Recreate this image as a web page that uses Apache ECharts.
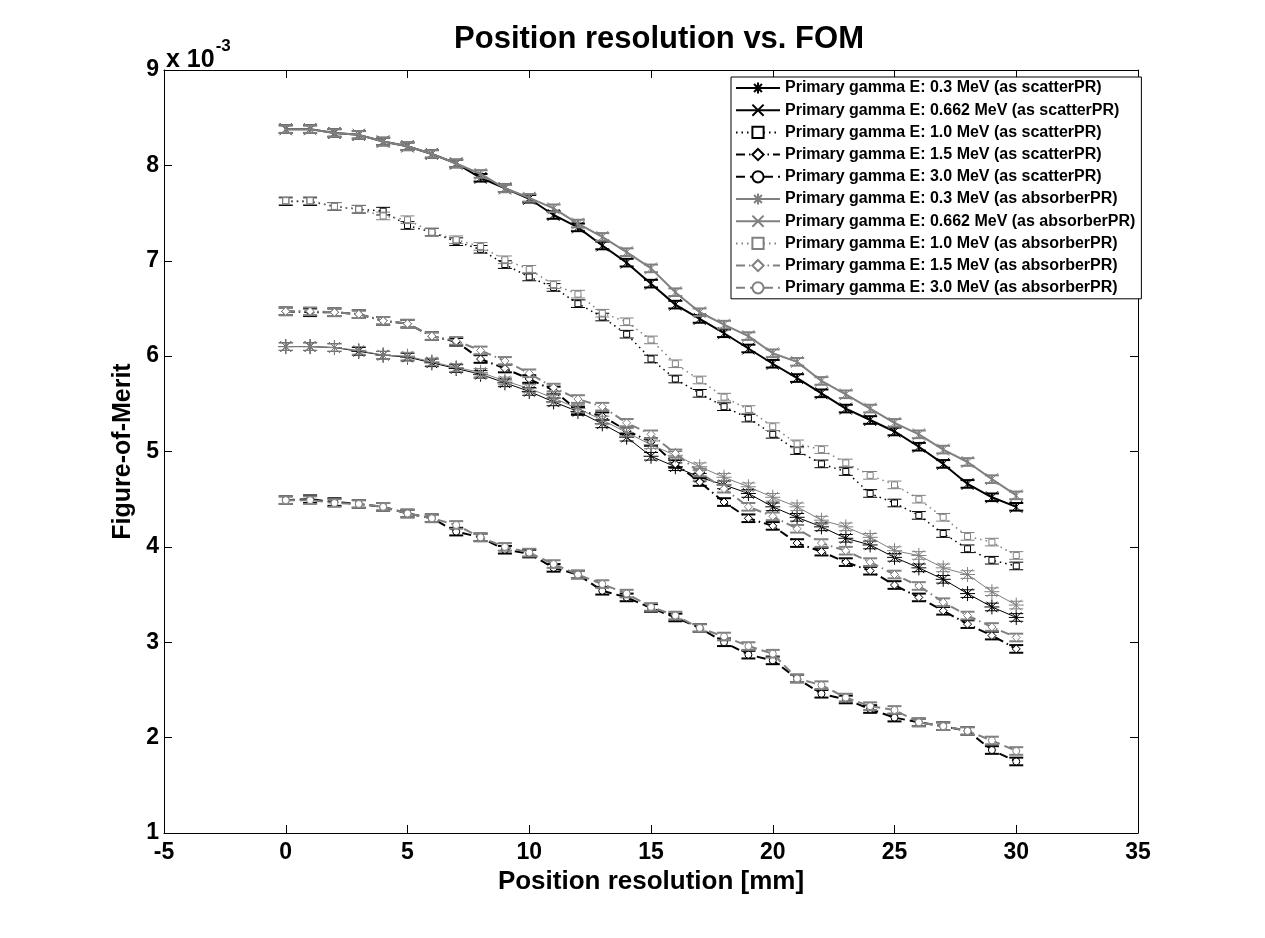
<!DOCTYPE html>
<html>
<head>
<meta charset="utf-8">
<script src="https://cdn.jsdelivr.net/npm/echarts@6/dist/echarts.min.js"></script>
<style>html,body{margin:0;padding:0;background:#fff}#c{width:1265px;height:938px}</style>
</head>
<body>
<div id="c"></div>
<script>
// ---- data (FOM values in units of 1e-3) ----
const positions = [0,1,2,3,4,5,6,7,8,9,10,11,12,13,14,15,16,17,18,19,20,21,22,23,24,25,26,27,28,29,30];
const xTicks = [-5,0,5,10,15,20,25,30,35];
const yTicks = [1,2,3,4,5,6,7,8,9];

const scatter03   = [6.10,6.10,6.09,6.05,6.01,5.99,5.93,5.87,5.81,5.72,5.63,5.52,5.42,5.29,5.15,4.95,4.84,4.73,4.65,4.56,4.42,4.31,4.21,4.09,4.02,3.89,3.78,3.66,3.51,3.37,3.26];
const scatter0662 = [8.38,8.38,8.34,8.32,8.25,8.20,8.12,8.02,7.87,7.76,7.65,7.48,7.35,7.16,6.98,6.76,6.54,6.39,6.24,6.08,5.92,5.77,5.61,5.45,5.33,5.21,5.05,4.87,4.66,4.52,4.42];
const scatter10   = [7.62,7.62,7.57,7.54,7.52,7.37,7.30,7.20,7.12,6.96,6.83,6.72,6.55,6.41,6.23,5.97,5.76,5.61,5.47,5.35,5.18,5.01,4.87,4.79,4.56,4.46,4.33,4.14,3.98,3.86,3.80];
const scatter15   = [6.47,6.46,6.46,6.44,6.37,6.34,6.21,6.15,5.97,5.87,5.76,5.64,5.43,5.37,5.22,5.10,4.87,4.68,4.47,4.30,4.22,4.04,3.95,3.84,3.75,3.60,3.47,3.33,3.19,3.07,2.93];
const scatter30   = [4.49,4.50,4.47,4.45,4.42,4.35,4.30,4.16,4.10,3.97,3.93,3.78,3.71,3.54,3.47,3.36,3.26,3.15,3.00,2.87,2.81,2.62,2.46,2.40,2.30,2.21,2.16,2.12,2.07,1.87,1.75];

const absorber03   = [6.10,6.10,6.09,6.06,6.01,6.00,5.94,5.88,5.83,5.74,5.66,5.56,5.45,5.33,5.20,5.07,4.96,4.84,4.73,4.63,4.52,4.42,4.28,4.21,4.10,3.96,3.91,3.78,3.71,3.53,3.39];
const absorber0662 = [8.38,8.38,8.34,8.32,8.25,8.20,8.12,8.02,7.91,7.76,7.66,7.55,7.39,7.25,7.09,6.92,6.67,6.46,6.33,6.21,6.03,5.94,5.74,5.60,5.45,5.30,5.18,5.02,4.89,4.71,4.54];
const absorber10   = [7.63,7.63,7.57,7.54,7.47,7.43,7.30,7.22,7.15,7.01,6.91,6.75,6.65,6.45,6.36,6.17,5.92,5.75,5.57,5.44,5.26,5.08,5.02,4.88,4.75,4.65,4.50,4.31,4.11,4.05,3.91];
const absorber15   = [6.47,6.47,6.46,6.44,6.37,6.34,6.21,6.16,6.06,5.95,5.82,5.67,5.55,5.47,5.30,5.18,4.98,4.78,4.61,4.42,4.32,4.19,4.04,3.96,3.84,3.71,3.59,3.42,3.28,3.16,3.05];
const absorber30   = [4.49,4.49,4.46,4.45,4.42,4.35,4.30,4.23,4.10,4.00,3.94,3.82,3.71,3.61,3.51,3.37,3.28,3.15,3.06,2.96,2.88,2.62,2.55,2.42,2.33,2.29,2.16,2.12,2.07,1.97,1.86];

// half-height of the error bars (estimated, same units)
const errorHalf = [0.04,0.04,0.04,0.04,0.04,0.04,0.04,0.04,0.04,0.04];

const seriesNames = [
  'Primary gamma E: 0.3 MeV (as scatterPR)',
  'Primary gamma E: 0.662 MeV (as scatterPR)',
  'Primary gamma E: 1.0 MeV (as scatterPR)',
  'Primary gamma E: 1.5 MeV (as scatterPR)',
  'Primary gamma E: 3.0 MeV (as scatterPR)',
  'Primary gamma E: 0.3 MeV (as absorberPR)',
  'Primary gamma E: 0.662 MeV (as absorberPR)',
  'Primary gamma E: 1.0 MeV (as absorberPR)',
  'Primary gamma E: 1.5 MeV (as absorberPR)',
  'Primary gamma E: 3.0 MeV (as absorberPR)'
];
const seriesValues = [scatter03, scatter0662, scatter10, scatter15, scatter30,
                      absorber03, absorber0662, absorber10, absorber15, absorber30];

// ---- styles ----
const BLACK = '#000000', GRAY = '#808080';
const ASTERISK = 'path://M5,0L5,10M0,5L10,5M1.5,1.5L8.5,8.5M1.5,8.5L8.5,1.5';
const CROSS = 'path://M0,0L10,10M0,10L10,0';
const styleFor = [
  {symbol: ASTERISK, size: 15, width: 1,   type: 'solid',        stroke: true},
  {symbol: CROSS,    size: 12, width: 2,   type: 'solid',        stroke: true},
  {symbol: 'rect',   size: 6,  width: 1.5, type: [1.5, 4],       stroke: false},
  {symbol: 'diamond',size: 8,  width: 2,   type: [9, 4, 1.5, 4], stroke: false},
  {symbol: 'circle', size: 7,  width: 2,   type: [9, 5],         stroke: false}
];

const FONT = 'Liberation Sans, Arial, sans-serif';
const series = [];
seriesValues.forEach(function (vals, i) {
  const color = i < 5 ? BLACK : GRAY;
  const st = styleFor[i % 5];
  const data = positions.map(function (p, k) { return [p, vals[k]]; });
  series.push({
    name: seriesNames[i],
    type: 'line',
    data: data,
    symbol: st.symbol,
    symbolSize: st.size,
    showAllSymbol: true,
    z: 2 + i,
    lineStyle: {color: color, width: st.width, type: st.type},
    itemStyle: {color: st.stroke ? color : '#ffffff', borderColor: color, borderWidth: 1},
    emphasis: {disabled: true},
    animation: false
  });
  series.push({
    name: seriesNames[i] + ' err',
    type: 'custom',
    z: 2 + i,
    data: positions.map(function (p, k) { return [p, vals[k], errorHalf[i]]; }),
    renderItem: function (params, api) {
      const x = api.value(0), y = api.value(1), e = api.value(2);
      const top = api.coord([x, y + e]);
      const bot = api.coord([x, y - e]);
      const hw = 7;
      const s = {stroke: color, lineWidth: st.width >= 2 ? 2 : 1};
      return {type: 'group', children: [
        {type: 'line', shape: {x1: top[0], y1: top[1], x2: bot[0], y2: bot[1]}, style: s},
        {type: 'line', shape: {x1: top[0] - hw, y1: top[1], x2: top[0] + hw, y2: top[1]}, style: s},
        {type: 'line', shape: {x1: bot[0] - hw, y1: bot[1], x2: bot[0] + hw, y2: bot[1]}, style: s}
      ]};
    },
    silent: true,
    animation: false
  });
});

function axisCommon() {
  return {
    axisLine: {show: true, onZero: false, lineStyle: {color: '#000', width: 1}},
    axisTick: {show: true, inside: true, length: 8, lineStyle: {color: '#000'}},
    splitLine: {show: false}
  };
}

const option = {
  backgroundColor: '#ffffff',
  animation: false,
  textStyle: {fontFamily: FONT},
  title: {
    text: 'Position resolution vs. FOM',
    left: 654, top: 19, textAlign: 'center',
    textStyle: {fontFamily: FONT, fontWeight: 'bold', fontSize: 31, color: '#000'}
  },
  grid: {left: 164, right: 127, top: 70, bottom: 105, containLabel: false},
  legend: {
    data: seriesNames,
    orient: 'vertical',
    left: 731, top: 77,
    itemWidth: 44, itemHeight: 14, itemGap: 6.2,
    padding: [3, 6, 3, 4],
    borderColor: '#000', borderWidth: 1, backgroundColor: '#fff',
    textStyle: {fontFamily: FONT, fontWeight: 'bold', fontSize: 16, color: '#000', lineHeight: 16},
    selectedMode: false,
    z: 20
  },
  xAxis: [
    Object.assign({
      type: 'value', min: xTicks[0], max: xTicks[xTicks.length - 1], interval: 5,
      position: 'bottom',
      name: 'Position resolution [mm]', nameLocation: 'middle', nameGap: 36,
      nameTextStyle: {fontFamily: FONT, fontWeight: 'bold', fontSize: 26, color: '#000'},
      axisLabel: {color: '#000', fontFamily: FONT, fontWeight: 'bold', fontSize: 23, margin: 8}
    }, axisCommon()),
    Object.assign({
      type: 'value', min: xTicks[0], max: xTicks[xTicks.length - 1], interval: 5,
      position: 'top', axisLabel: {show: false}
    }, axisCommon())
  ],
  yAxis: [
    Object.assign({
      type: 'value', min: yTicks[0], max: yTicks[yTicks.length - 1], interval: 1,
      position: 'left',
      name: 'Figure-of-Merit', nameLocation: 'middle', nameGap: 24,
      nameTextStyle: {fontFamily: FONT, fontWeight: 'bold', fontSize: 25, color: '#000'},
      axisLabel: {color: '#000', fontFamily: FONT, fontWeight: 'bold', fontSize: 23, margin: 5}
    }, axisCommon()),
    Object.assign({
      type: 'value', min: yTicks[0], max: yTicks[yTicks.length - 1], interval: 1,
      position: 'right', axisLabel: {show: false}
    }, axisCommon())
  ],
  graphic: [{
    type: 'text', left: 166, top: 38, z: 30,
    style: {
      text: '{a|x 10}{b|-3}',
      rich: {
        a: {fontFamily: FONT, fontWeight: 'bold', fontSize: 25, fill: '#000', padding: [10, 0, 0, 0]},
        b: {fontFamily: FONT, fontWeight: 'bold', fontSize: 17, fill: '#000', verticalAlign: 'top', padding: [0, 0, 16, 1]}
      }
    }
  }],
  series: series
};

const chart = echarts.init(document.getElementById('c'), null, {renderer: 'canvas'});
chart.setOption(option);
</script>
</body>
</html>
